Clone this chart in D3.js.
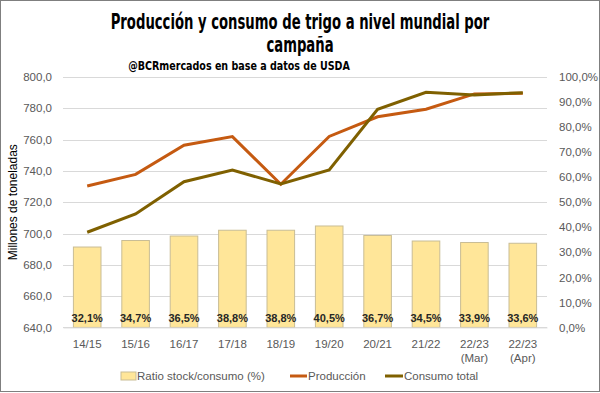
<!DOCTYPE html>
<html>
<head>
<meta charset="utf-8">
<script src="https://cdn.jsdelivr.net/npm/d3@7"></script>
<style>
  body { margin: 0; background: #fff; }
  svg { display: block; }
  .tick text { font-family: "Liberation Sans", Arial, sans-serif; font-size: 11.5px; fill: #595959; }
</style>
</head>
<body>
<div id="chart"></div>
<script>
// Data
var campaigns = ["14/15", "15/16", "16/17", "17/18", "18/19", "19/20", "20/21", "21/22", "22/23 (Mar)", "22/23 (Apr)"];
var ratioStock = [32.1, 34.7, 36.5, 38.8, 38.8, 40.5, 36.7, 34.5, 33.9, 33.6];
var produccion = [730.4, 737.8, 756.4, 761.9, 731.5, 762.0, 774.6, 779.4, 789.2, 789.6];
var consumo = [700.8, 712.5, 733.1, 740.6, 731.6, 740.6, 779.4, 790.2, 788.5, 790.0];
var leftTicks = [640, 660, 680, 700, 720, 740, 760, 780, 800];
var rightTicks = [0, 10, 20, 30, 40, 50, 60, 70, 80, 90, 100];

var W = 600, H = 393;
var margin = { top: 77, right: 53, bottom: 65.6, left: 63 },
    width = W - margin.left - margin.right,
    height = H - margin.top - margin.bottom;

var svg = d3.select("#chart").append("svg")
    .attr("width", W)
    .attr("height", H);

// outer frame
svg.append("rect")
    .attr("x", 0.5).attr("y", 0.5)
    .attr("width", W - 1).attr("height", H - 2)
    .attr("fill", "#fff")
    .attr("stroke", "#7f7f7f");

// titles: the reference uses a condensed face, so the text is squeezed horizontally
var condensed = "'DejaVu Sans Condensed', 'Liberation Sans Narrow', sans-serif";

function titleLine(str, cx, y, size, sx) {
  var t = svg.append("g")
      .attr("transform", "translate(" + cx + "," + y + ")")
    .append("text")
      .attr("text-anchor", "middle")
      .attr("font-family", condensed)
      .attr("font-weight", "bold")
      .attr("font-size", size)
      .attr("fill", "#000")
      .text(str);
  if (sx == null) {
    var len = t.node().getComputedTextLength();
    sx = len > 0 ? 379 / len : 1;
  }
  t.attr("transform", "scale(" + sx + ",1)");
  return sx;
}

var sx = titleLine("Producción y consumo de trigo a nivel mundial por", W / 2, 29, 22);
titleLine("campaña", W / 2, 52, 22, sx);

var sub = svg.append("g")
    .attr("transform", "translate(239,70)")
  .append("text")
    .attr("text-anchor", "middle")
    .attr("font-family", condensed)
    .attr("font-weight", "bold")
    .attr("font-size", 12)
    .attr("fill", "#000")
    .text("@BCRmercados  en base a datos de USDA");
var subLen = sub.node().getComputedTextLength();
if (subLen > 0) sub.attr("transform", "scale(" + (222 / subLen) + ",1)");

var g = svg.append("g")
    .attr("transform", "translate(" + margin.left + "," + margin.top + ")");

var x = d3.scaleBand()
    .domain(campaigns)
    .range([0, width])
    .paddingInner(0.43)
    .paddingOuter(0.215);

var yLeft = d3.scaleLinear()
    .domain([640, 800])
    .range([height, 0]);

var yRight = d3.scaleLinear()
    .domain([0, 100])
    .range([height, 0]);

var fmtLeft = function(d) { return d3.format(".1f")(d).replace(".", ","); };
var fmtPct = function(d) { return d3.format(".1f")(d).replace(".", ",") + "%"; };

// gridlines
g.append("g")
    .attr("class", "grid")
  .selectAll("line")
    .data(leftTicks)
  .enter().append("line")
    .attr("x1", 0).attr("x2", width)
    .attr("y1", function(d) { return Math.round(yLeft(d)) + 0.5; })
    .attr("y2", function(d) { return Math.round(yLeft(d)) + 0.5; })
    .attr("stroke", "#d9d9d9")
    .attr("stroke-width", 1);

// left axis
g.append("g")
    .call(d3.axisLeft(yLeft).tickValues(leftTicks).tickSize(0).tickPadding(11).tickFormat(fmtLeft))
    .call(function(s) { s.select(".domain").remove(); });

// right axis
g.append("g")
    .attr("transform", "translate(" + width + ",0)")
    .call(d3.axisRight(yRight).tickValues(rightTicks).tickSize(0).tickPadding(12).tickFormat(fmtPct))
    .call(function(s) { s.select(".domain").remove(); });

// y axis title
svg.append("text")
    .attr("transform", "translate(17," + (margin.top + height / 2) + ") rotate(-90)")
    .attr("text-anchor", "middle")
    .attr("font-family", "'Liberation Sans', Arial, sans-serif")
    .attr("font-size", 12)
    .attr("fill", "#000")
    .text("Millones de toneladas");

// bars: stock / consumption ratio on the right axis
var bars = g.append("g").attr("class", "bars");

bars.selectAll("rect")
    .data(ratioStock)
  .enter().append("rect")
    .attr("x", function(d, i) { return x(campaigns[i]); })
    .attr("y", function(d) { return yRight(d); })
    .attr("width", x.bandwidth())
    .attr("height", function(d) { return height - yRight(d); })
    .attr("fill", "#ffe699")
    .attr("stroke", "#c9bd95")
    .attr("stroke-width", 1);

bars.selectAll("text")
    .data(ratioStock)
  .enter().append("text")
    .attr("x", function(d, i) { return x(campaigns[i]) + x.bandwidth() / 2; })
    .attr("y", height - 5)
    .attr("text-anchor", "middle")
    .attr("font-family", "'Liberation Sans', Arial, sans-serif")
    .attr("font-weight", "bold")
    .attr("font-size", 11)
    .attr("fill", "#262626")
    .text(function(d) { return fmtPct(d); });

// x axis
var xAxis = g.append("g")
    .attr("transform", "translate(0," + height + ")")
    .call(d3.axisBottom(x).tickSize(0).tickPadding(12));

xAxis.select(".domain")
    .attr("stroke", "#d9d9d9");

xAxis.selectAll(".tick text")
    .each(function(d) {
      var parts = d.split(" ");
      var t = d3.select(this).text(null);
      parts.forEach(function(p, k) {
        t.append("tspan")
            .attr("x", 0)
            .attr("dy", k === 0 ? "0.71em" : "1.25em")
            .text(p);
      });
    })
    .attr("dy", null);

// lines
var line = d3.line()
    .x(function(d, i) { return x(campaigns[i]) + x.bandwidth() / 2; })
    .y(function(d) { return yLeft(d); });

g.append("path")
    .datum(produccion)
    .attr("d", line)
    .attr("fill", "none")
    .attr("stroke", "#c55a11")
    .attr("stroke-width", 3);

g.append("path")
    .datum(consumo)
    .attr("d", line)
    .attr("fill", "none")
    .attr("stroke", "#7f6000")
    .attr("stroke-width", 3);

// legend
var legend = svg.append("g")
    .attr("font-family", "'Liberation Sans', Arial, sans-serif")
    .attr("font-size", 11.5)
    .attr("fill", "#595959");

legend.append("rect")
    .attr("x", 121).attr("y", 372)
    .attr("width", 15).attr("height", 8)
    .attr("fill", "#ffe699")
    .attr("stroke", "#c9bd95");

legend.append("text")
    .attr("x", 137).attr("y", 380)
    .text("Ratio stock/consumo (%)");

legend.append("line")
    .attr("x1", 290).attr("x2", 307)
    .attr("y1", 376).attr("y2", 376)
    .attr("stroke", "#c55a11")
    .attr("stroke-width", 3);

legend.append("text")
    .attr("x", 308).attr("y", 380)
    .text("Producción");

legend.append("line")
    .attr("x1", 385).attr("x2", 403)
    .attr("y1", 376).attr("y2", 376)
    .attr("stroke", "#7f6000")
    .attr("stroke-width", 3);

legend.append("text")
    .attr("x", 404).attr("y", 380)
    .text("Consumo total");
</script>
</body>
</html>
